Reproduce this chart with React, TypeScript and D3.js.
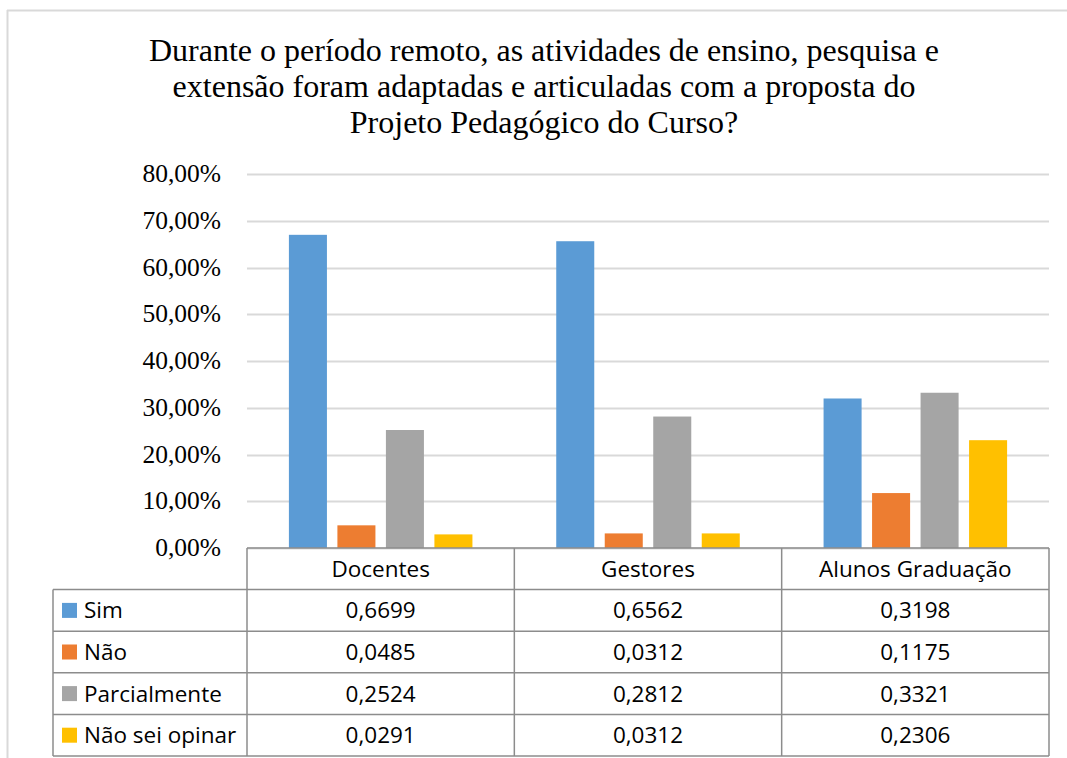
import React, { useEffect, useRef } from "react";
import * as d3 from "d3";

const title = [
  "Durante o período remoto, as atividades de ensino, pesquisa e",
  "extensão foram adaptadas e articuladas com a proposta do",
  "Projeto Pedagógico do Curso?",
];
const categories = ["Docentes", "Gestores", "Alunos Graduação"];
const seriesNames = ["Sim", "Não", "Parcialmente", "Não sei opinar"];
const seriesColors = ["#5B9BD5", "#ED7D31", "#A5A5A5", "#FFC000"];
const sim = [0.6699, 0.6562, 0.3198];
const nao = [0.0485, 0.0312, 0.1175];
const parcialmente = [0.2524, 0.2812, 0.3321];
const naoSei = [0.0291, 0.0312, 0.2306];
const seriesValues = [sim, nao, parcialmente, naoSei];
const yTicks = [0, 0.1, 0.2, 0.3, 0.4, 0.5, 0.6, 0.7, 0.8];

const W = 1067;
const H = 758;

export default function App() {
  const ref = useRef<SVGSVGElement>(null);
  useEffect(() => {
    const svg = d3.select(ref.current);
    svg.selectAll("*").remove();

    // frame
    svg.append("line").attr("x1", 7).attr("x2", W).attr("y1", 10.5).attr("y2", 10.5)
      .attr("stroke", "#d9d9d9").attr("stroke-width", 2);
    svg.append("line").attr("x1", 7.5).attr("x2", 7.5).attr("y1", 10).attr("y2", H)
      .attr("stroke", "#d9d9d9").attr("stroke-width", 2);

    // title
    const tg = svg.append("g");
    title.forEach((t, i) => {
      tg.append("text").attr("x", 544).attr("y", 61 + i * 36)
        .attr("text-anchor", "middle")
        .attr("font-family", "'Liberation Serif', 'Times New Roman', serif")
        .attr("font-size", 32).attr("fill", "#000").text(t);
    });

    const x0 = 247, x1 = 1049;
    const y = d3.scaleLinear().domain([0, 0.8]).range([548, 174]);
    const xb = d3.scaleBand<string>().domain(categories).range([x0, x1]).padding(0);
    const xi = d3.scaleBand<string>().domain(seriesNames)
      .range([0, xb.bandwidth()]).paddingInner(0.216).paddingOuter(0.864);

    // gridlines
    svg.append("g").selectAll("line").data(yTicks).join("line")
      .attr("x1", x0).attr("x2", x1)
      .attr("y1", (d) => Math.round(y(d)) + 0.5).attr("y2", (d) => Math.round(y(d)) + 0.5)
      .attr("stroke", "#d9d9d9").attr("stroke-width", 2);

    // tick labels
    svg.append("g").selectAll("text").data(yTicks).join("text")
      .attr("x", 221).attr("y", (d) => y(d) + 8)
      .attr("text-anchor", "end")
      .attr("font-family", "'Liberation Serif', 'Times New Roman', serif")
      .attr("font-size", 25.5).attr("fill", "#000")
      .text((d) => (d * 100).toFixed(2).replace(".", ",") + "%");

    // bars
    seriesNames.forEach((s, si) => {
      svg.append("g").selectAll("rect").data(seriesValues[si]).join("rect")
        .attr("x", (_d, ci) => (xb(categories[ci]) as number) + (xi(s) as number))
        .attr("width", xi.bandwidth())
        .attr("y", (d) => y(d))
        .attr("height", (d) => y(0) - y(d))
        .attr("fill", seriesColors[si]);
    });

    // data table
    const tableLeft = 53;
    const rowTop = 548;
    const rowH = 41.6;
    const tl = svg.append("g");
    const stroke = "#8c8c8c";
    const tfont = "'Open Sans', 'Noto Sans', sans-serif";
    const fs = 22.5;
    tl.append("line").attr("x1", x0).attr("x2", x1).attr("y1", rowTop).attr("y2", rowTop)
      .attr("stroke", stroke).attr("stroke-width", 1.5);
    for (let r = 1; r <= 5; r++) {
      tl.append("line").attr("x1", tableLeft).attr("x2", x1)
        .attr("y1", rowTop + r * rowH).attr("y2", rowTop + r * rowH)
        .attr("stroke", stroke).attr("stroke-width", 1.5);
    }
    tl.append("line").attr("x1", tableLeft).attr("x2", tableLeft)
      .attr("y1", rowTop + rowH).attr("y2", rowTop + 5 * rowH)
      .attr("stroke", stroke).attr("stroke-width", 1.5);
    [x0, ...categories.map((c) => (xb(c) as number) + xb.bandwidth())].forEach((xx) => {
      tl.append("line").attr("x1", xx).attr("x2", xx)
        .attr("y1", rowTop).attr("y2", rowTop + 5 * rowH)
        .attr("stroke", stroke).attr("stroke-width", 1.5);
    });
    categories.forEach((c) => {
      tl.append("text").attr("x", (xb(c) as number) + xb.bandwidth() / 2)
        .attr("y", rowTop + rowH / 2 + 8).attr("text-anchor", "middle")
        .attr("font-family", tfont).attr("font-size", fs).attr("fill", "#000").text(c);
    });
    seriesNames.forEach((s, si) => {
      const cy = rowTop + (si + 1) * rowH + rowH / 2;
      tl.append("rect").attr("x", 62).attr("y", cy - 7.5).attr("width", 15).attr("height", 15)
        .attr("fill", seriesColors[si]);
      tl.append("text").attr("x", 84).attr("y", cy + 8)
        .attr("font-family", tfont).attr("font-size", fs).attr("fill", "#000").text(s);
      seriesValues[si].forEach((v, ci) => {
        tl.append("text").attr("x", (xb(categories[ci]) as number) + xb.bandwidth() / 2)
          .attr("y", cy + 8).attr("text-anchor", "middle")
          .attr("font-family", tfont).attr("font-size", fs).attr("fill", "#000")
          .text(v.toFixed(4).replace(".", ","));
      });
    });
  }, []);
  return (
    <svg ref={ref} width={W} height={H}
      style={{ position: "absolute", left: 0, top: 0, background: "#fff" }} />
  );
}
